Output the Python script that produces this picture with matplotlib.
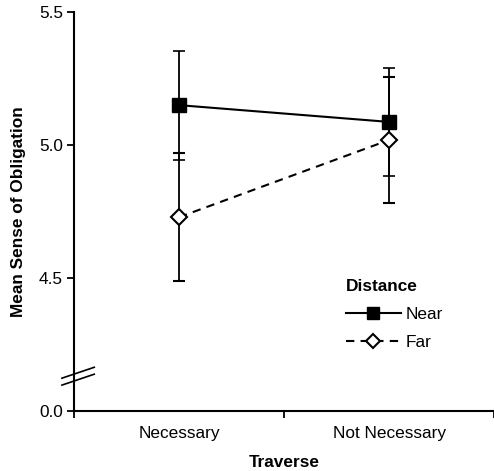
import numpy as np
import matplotlib
matplotlib.use("Agg")
import matplotlib.pyplot as plt
import matplotlib.transforms as mtransforms
from matplotlib.lines import Line2D

plt.rcParams['font.family'] = ['Liberation Sans', 'DejaVu Sans']

# data
categories = ["Necessary", "Not Necessary"]
near_mean = [5.15, 5.087]
near_err = [0.205, 0.203]
far_mean = [4.729, 5.019]
far_err = [0.24, 0.236]

# the axis is broken: 0.0 is drawn where 4.0 would be
ytick_pos = [4.0, 4.5, 5.0, 5.5]
ytick_lab = ["0.0", "4.5", "5.0", "5.5"]

xpos = np.array([0.5, 1.5])
fs = 12.4

fig = plt.figure(figsize=(4.94, 4.71), dpi=100)
ax = fig.add_axes([0.150, 0.127, 0.850, 0.8475])

near_style = dict(color='black', lw=1.5, ls='-', marker='s', ms=10,
                  mfc='black', mec='black')
far_style = dict(color='black', lw=1.5, ls=(0, (4, 3)), marker='D', ms=8,
                 mfc='white', mec='black', mew=1.5)

ax.errorbar(xpos, near_mean, yerr=near_err, capsize=4, capthick=1.2,
            elinewidth=1.3, zorder=3, **near_style)
ax.errorbar(xpos, far_mean, yerr=far_err, capsize=4, capthick=1.2,
            elinewidth=1.3, zorder=4, **far_style)

ax.set_xlim(0, 2)
ax.set_ylim(4.0, 5.5)
ax.set_yticks(ytick_pos)
ax.set_yticklabels(ytick_lab, fontsize=fs)
ax.set_xticks([0, 1, 2])
ax.set_xticklabels([])
ax.set_xticks(xpos, minor=True)
ax.set_xticklabels(categories, minor=True, fontsize=fs)
ax.tick_params(axis='x', which='minor', length=0, pad=11)
ax.tick_params(axis='both', which='major', direction='out', length=5, width=1.3)
ax.tick_params(axis='y', pad=3)

for s in ['top', 'right']:
    ax.spines[s].set_visible(False)
for s in ['left', 'bottom']:
    ax.spines[s].set_linewidth(1.5)

ax.set_ylabel("Mean Sense of Obligation", fontsize=fs, fontweight='bold', labelpad=9)
ax.set_xlabel("Traverse", fontsize=fs, fontweight='bold', labelpad=10)

# break marks
trans = mtransforms.blended_transform_factory(ax.transAxes, ax.transData)
for y0, y1 in [(4.124, 4.165), (4.098, 4.139)]:
    ax.plot([-0.029, 0.048], [y0, y1], color='black', lw=1.2,
            transform=trans, clip_on=False)

handles = [Line2D([], [], **dict(near_style, ms=8)),
           Line2D([], [], **dict(far_style, ms=7))]
leg = ax.legend(handles, ["Near", "Far"], loc='upper left',
                bbox_to_anchor=(0.61, 0.37), frameon=False,
                title="Distance", fontsize=fs, handlelength=3.2,
                handletextpad=0.3, labelspacing=0.75, alignment='left')
leg.get_title().set_fontweight('bold')
leg.get_title().set_fontsize(fs)

fig.savefig("out.png", dpi=100)
